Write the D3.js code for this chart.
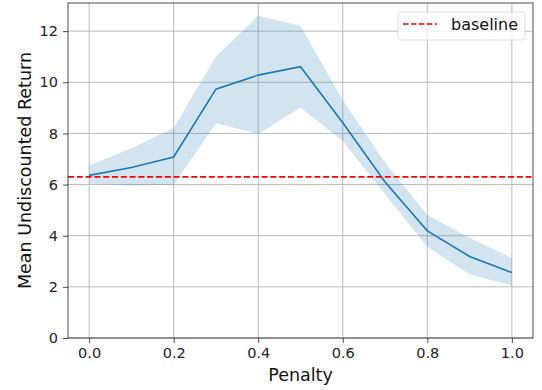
<!DOCTYPE html>
<html>
<head>
<meta charset="utf-8">
<script src="https://cdn.jsdelivr.net/npm/d3@7"></script>
<style>
  body { margin: 0; background: #fff; }
  svg { display: block; font-family: "DejaVu Sans", sans-serif; }
</style>
</head>
<body>
<div id="chart"></div>
<script>
const penalties = [0.0, 0.1, 0.2, 0.3, 0.4, 0.5, 0.6, 0.7, 0.8, 0.9, 1.0];
const meanReturn = [6.36, 6.67, 7.08, 9.73, 10.28, 10.61, 8.42, 6.1, 4.19, 3.19, 2.56];
const upperReturn = [6.74, 7.42, 8.21, 11.01, 12.6, 12.21, 9.3, 6.85, 4.81, 3.92, 3.13];
const lowerReturn = [6.03, 5.96, 5.99, 8.4, 7.98, 9.01, 7.7, 5.62, 3.57, 2.49, 2.05];
const baselineValue = 6.3;
const xTicks = [0.0, 0.2, 0.4, 0.6, 0.8, 1.0];
const yTicks = [0, 2, 4, 6, 8, 10, 12];

const width = 542, height = 390;
const margin = { top: 3, right: 9, bottom: 52, left: 68 };
const innerW = width - margin.left - margin.right;
const innerH = height - margin.top - margin.bottom;

const data = penalties.map((p, i) => ({
    x: p, mean: meanReturn[i], lo: lowerReturn[i], hi: upperReturn[i]
}));

const x = d3.scaleLinear().domain([-0.05, 1.05]).range([0, innerW]);
const y = d3.scaleLinear().domain([0, 13.1]).range([innerH, 0]);

const svg = d3.select('#chart').append('svg')
    .attr('width', width)
    .attr('height', height);

const g = svg.append('g')
    .attr('transform', `translate(${margin.left},${margin.top})`);

// grid
g.append('g').selectAll('line')
    .data(xTicks)
    .join('line')
    .attr('x1', d => x(d)).attr('x2', d => x(d))
    .attr('y1', 0).attr('y2', innerH)
    .attr('stroke', '#b0b0b0').attr('stroke-width', 1).attr('opacity', 0.85);

g.append('g').selectAll('line')
    .data(yTicks)
    .join('line')
    .attr('x1', 0).attr('x2', innerW)
    .attr('y1', d => y(d)).attr('y2', d => y(d))
    .attr('stroke', '#b0b0b0').attr('stroke-width', 1).attr('opacity', 0.85);

// band
g.append('path')
    .datum(data)
    .attr('fill', '#1f77b4')
    .attr('fill-opacity', 0.2)
    .attr('d', d3.area().x(d => x(d.x)).y0(d => y(d.lo)).y1(d => y(d.hi)));

// mean line
g.append('path')
    .datum(data)
    .attr('fill', 'none')
    .attr('stroke', '#1f77b4')
    .attr('stroke-width', 1.6)
    .attr('d', d3.line().x(d => x(d.x)).y(d => y(d.mean)));

// baseline
g.append('line')
    .attr('x1', 0).attr('x2', innerW)
    .attr('y1', y(baselineValue)).attr('y2', y(baselineValue))
    .attr('stroke', '#ff0000')
    .attr('stroke-width', 1.6)
    .attr('stroke-dasharray', '6,2.8');

// axes
const xAxis = g.append('g')
    .attr('transform', `translate(0,${innerH})`)
    .call(d3.axisBottom(x).tickValues(xTicks).tickFormat(d3.format('.1f')).tickSize(5).tickPadding(5));

const yAxis = g.append('g')
    .call(d3.axisLeft(y).tickValues(yTicks).tickFormat(d3.format('d')).tickSize(5).tickPadding(5));

[xAxis, yAxis].forEach(a => {
    a.select('.domain').remove();
    a.selectAll('line').attr('stroke', '#222').attr('stroke-width', 0.8);
    a.selectAll('text')
        .attr('fill', '#222')
        .style('font-size', '14.5px')
        .style('font-family', '"DejaVu Sans", sans-serif');
});

// frame
g.append('rect')
    .attr('x', 0).attr('y', 0)
    .attr('width', innerW).attr('height', innerH)
    .attr('fill', 'none')
    .attr('stroke', '#222')
    .attr('stroke-width', 0.8);

// labels
svg.append('text')
    .attr('x', margin.left + innerW / 2)
    .attr('y', 381)
    .attr('text-anchor', 'middle')
    .style('font-size', '17.5px')
    .attr('fill', '#111')
    .text('Penalty');

svg.append('text')
    .attr('transform', `translate(31,${margin.top + innerH / 2}) rotate(-90)`)
    .attr('text-anchor', 'middle')
    .style('font-size', '17.5px')
    .attr('fill', '#111')
    .text('Mean Undiscounted Return');

// legend
const legend = svg.append('g').attr('transform', 'translate(398,12)');
legend.append('rect')
    .attr('width', 127).attr('height', 28)
    .attr('rx', 3)
    .attr('fill', '#fff').attr('fill-opacity', 0.8)
    .attr('stroke', '#d6d6d6').attr('stroke-width', 0.8);
legend.append('line')
    .attr('x1', 5).attr('x2', 39)
    .attr('y1', 12).attr('y2', 12)
    .attr('stroke', '#ff0000')
    .attr('stroke-width', 1.5)
    .attr('stroke-dasharray', '5.5,2.4');
legend.append('text')
    .attr('x', 53).attr('y', 18)
    .style('font-size', '16px')
    .attr('fill', '#111')
    .text('baseline');
</script>
</body>
</html>
